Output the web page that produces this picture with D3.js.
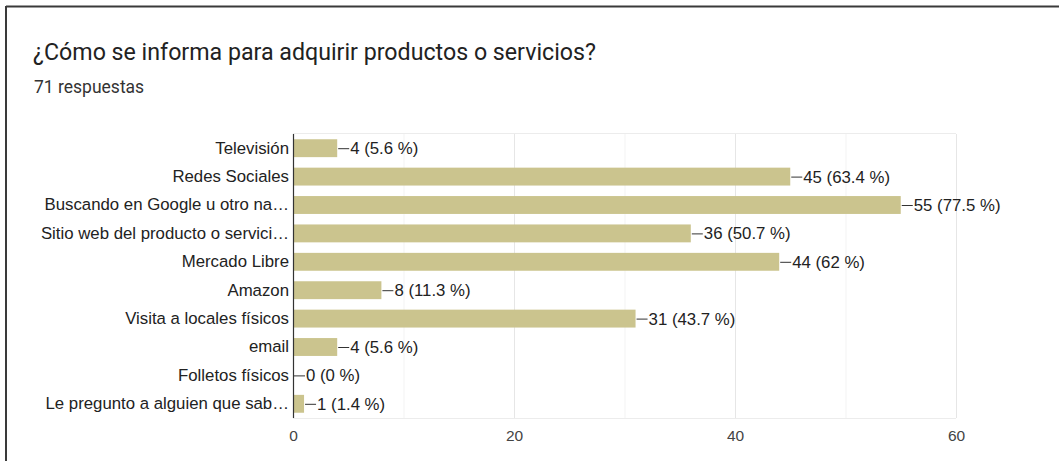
<!DOCTYPE html>
<html>
<head>
<meta charset="utf-8">
<script src="https://cdn.jsdelivr.net/npm/d3@7"></script>
<style>
  html, body { margin: 0; padding: 0; background: #fff; }
  svg { display: block; }
</style>
</head>
<body>
<svg id="chart" width="1059" height="461"></svg>
<script>
// Survey answers: how people look for information before buying
const categories = [
  "Televisión",
  "Redes Sociales",
  "Buscando en Google u otro na…",
  "Sitio web del producto o servici…",
  "Mercado Libre",
  "Amazon",
  "Visita a locales físicos",
  "email",
  "Folletos físicos",
  "Le pregunto a alguien que sab…"
];
const counts = [4, 45, 55, 36, 44, 8, 31, 4, 0, 1];
const percents = ["5.6", "63.4", "77.5", "50.7", "62", "11.3", "43.7", "5.6", "0", "1.4"];
const majorTicks = [0, 20, 40, 60];
const minorTicks = [10, 30, 50];
const title = "¿Cómo se informa para adquirir productos o servicios?";
const subtitle = "71 respuestas";

const svg = d3.select("#chart");

// card frame (top and left edges)
svg.append("line").attr("x1", 6).attr("x2", 1059).attr("y1", 6.5).attr("y2", 6.5)
  .attr("stroke", "#3a3a3a").attr("stroke-width", 2);
svg.append("line").attr("x1", 6).attr("x2", 6).attr("y1", 6).attr("y2", 461)
  .attr("stroke", "#3a3a3a").attr("stroke-width", 2);

svg.append("text").attr("x", 33).attr("y", 60)
  .attr("font-family", "Roboto, Arial, sans-serif").attr("font-size", 23.2)
  .attr("fill", "#222").text(title);
svg.append("text").attr("x", 34).attr("y", 93)
  .attr("font-family", "Roboto, Arial, sans-serif").attr("font-size", 17.5)
  .attr("fill", "#333").text(subtitle);

const plotLeft = 293, plotRight = 956, plotTop = 134, plotBottom = 418;
const labelFont = "Liberation Sans, Arial, sans-serif";
const labelSize = 16.8;

const x = d3.scaleLinear().domain([0, 60]).range([plotLeft, plotRight]);
const y = d3.scaleBand().domain(categories).range([plotTop, plotBottom]).paddingInner(0.37).paddingOuter(0.185);

const g = svg.append("g");

// gridlines
g.selectAll(".minor").data(minorTicks).join("line")
  .attr("x1", d => x(d) + 0.5).attr("x2", d => x(d) + 0.5)
  .attr("y1", plotTop).attr("y2", plotBottom)
  .attr("stroke", "#f3f3f3").attr("stroke-width", 1);
g.selectAll(".major").data(majorTicks.slice(1)).join("line")
  .attr("x1", d => x(d) + 0.5).attr("x2", d => x(d) + 0.5)
  .attr("y1", plotTop).attr("y2", plotBottom)
  .attr("stroke", "#e6e6e6").attr("stroke-width", 1);
g.append("line").attr("x1", plotLeft).attr("x2", plotRight).attr("y1", plotTop - 0.5).attr("y2", plotTop - 0.5)
  .attr("stroke", "#ececec");
g.append("line").attr("x1", plotLeft).attr("x2", plotRight).attr("y1", plotBottom + 0.5).attr("y2", plotBottom + 0.5)
  .attr("stroke", "#ececec");

// bars
const rows = categories.map((c, i) => ({ c, v: counts[i], p: percents[i] }));
g.selectAll(".bar").data(rows).join("rect")
  .attr("x", x(0)).attr("y", d => y(d.c))
  .attr("width", d => x(d.v) - x(0)).attr("height", y.bandwidth())
  .attr("fill", "#cbc48e");

// value annotations with leader stubs
g.selectAll(".stub").data(rows).join("line")
  .attr("x1", d => x(d.v) + 1).attr("x2", d => x(d.v) + 12)
  .attr("y1", d => y(d.c) + y.bandwidth() / 2 + 0.5)
  .attr("y2", d => y(d.c) + y.bandwidth() / 2 + 0.5)
  .attr("stroke", "#333").attr("stroke-width", 1);
g.selectAll(".val").data(rows).join("text")
  .attr("x", d => x(d.v) + 13).attr("y", d => y(d.c) + y.bandwidth() / 2)
  .attr("dy", "0.36em")
  .attr("font-family", labelFont).attr("font-size", labelSize)
  .attr("fill", "#222").text(d => `${d.v} (${d.p} %)`);

// category axis
const yAxis = d3.axisLeft(y).tickSize(0).tickPadding(4);
const ya = g.append("g").attr("transform", `translate(${plotLeft},0)`).call(yAxis);
ya.select(".domain").remove();
ya.selectAll("text").attr("font-family", labelFont)
  .attr("font-size", labelSize).attr("fill", "#222");
g.append("line").attr("x1", plotLeft + 0.5).attr("x2", plotLeft + 0.5).attr("y1", plotTop).attr("y2", plotBottom)
  .attr("stroke", "#333").attr("stroke-width", 1.2);

// value axis
const xAxis = d3.axisBottom(x).tickValues(majorTicks).tickSize(0).tickPadding(12);
const xa = g.append("g").attr("transform", `translate(0,${plotBottom})`).call(xAxis);
xa.select(".domain").remove();
xa.selectAll("text").attr("font-family", labelFont)
  .attr("font-size", 15.5).attr("fill", "#444");
</script>
</body>
</html>
